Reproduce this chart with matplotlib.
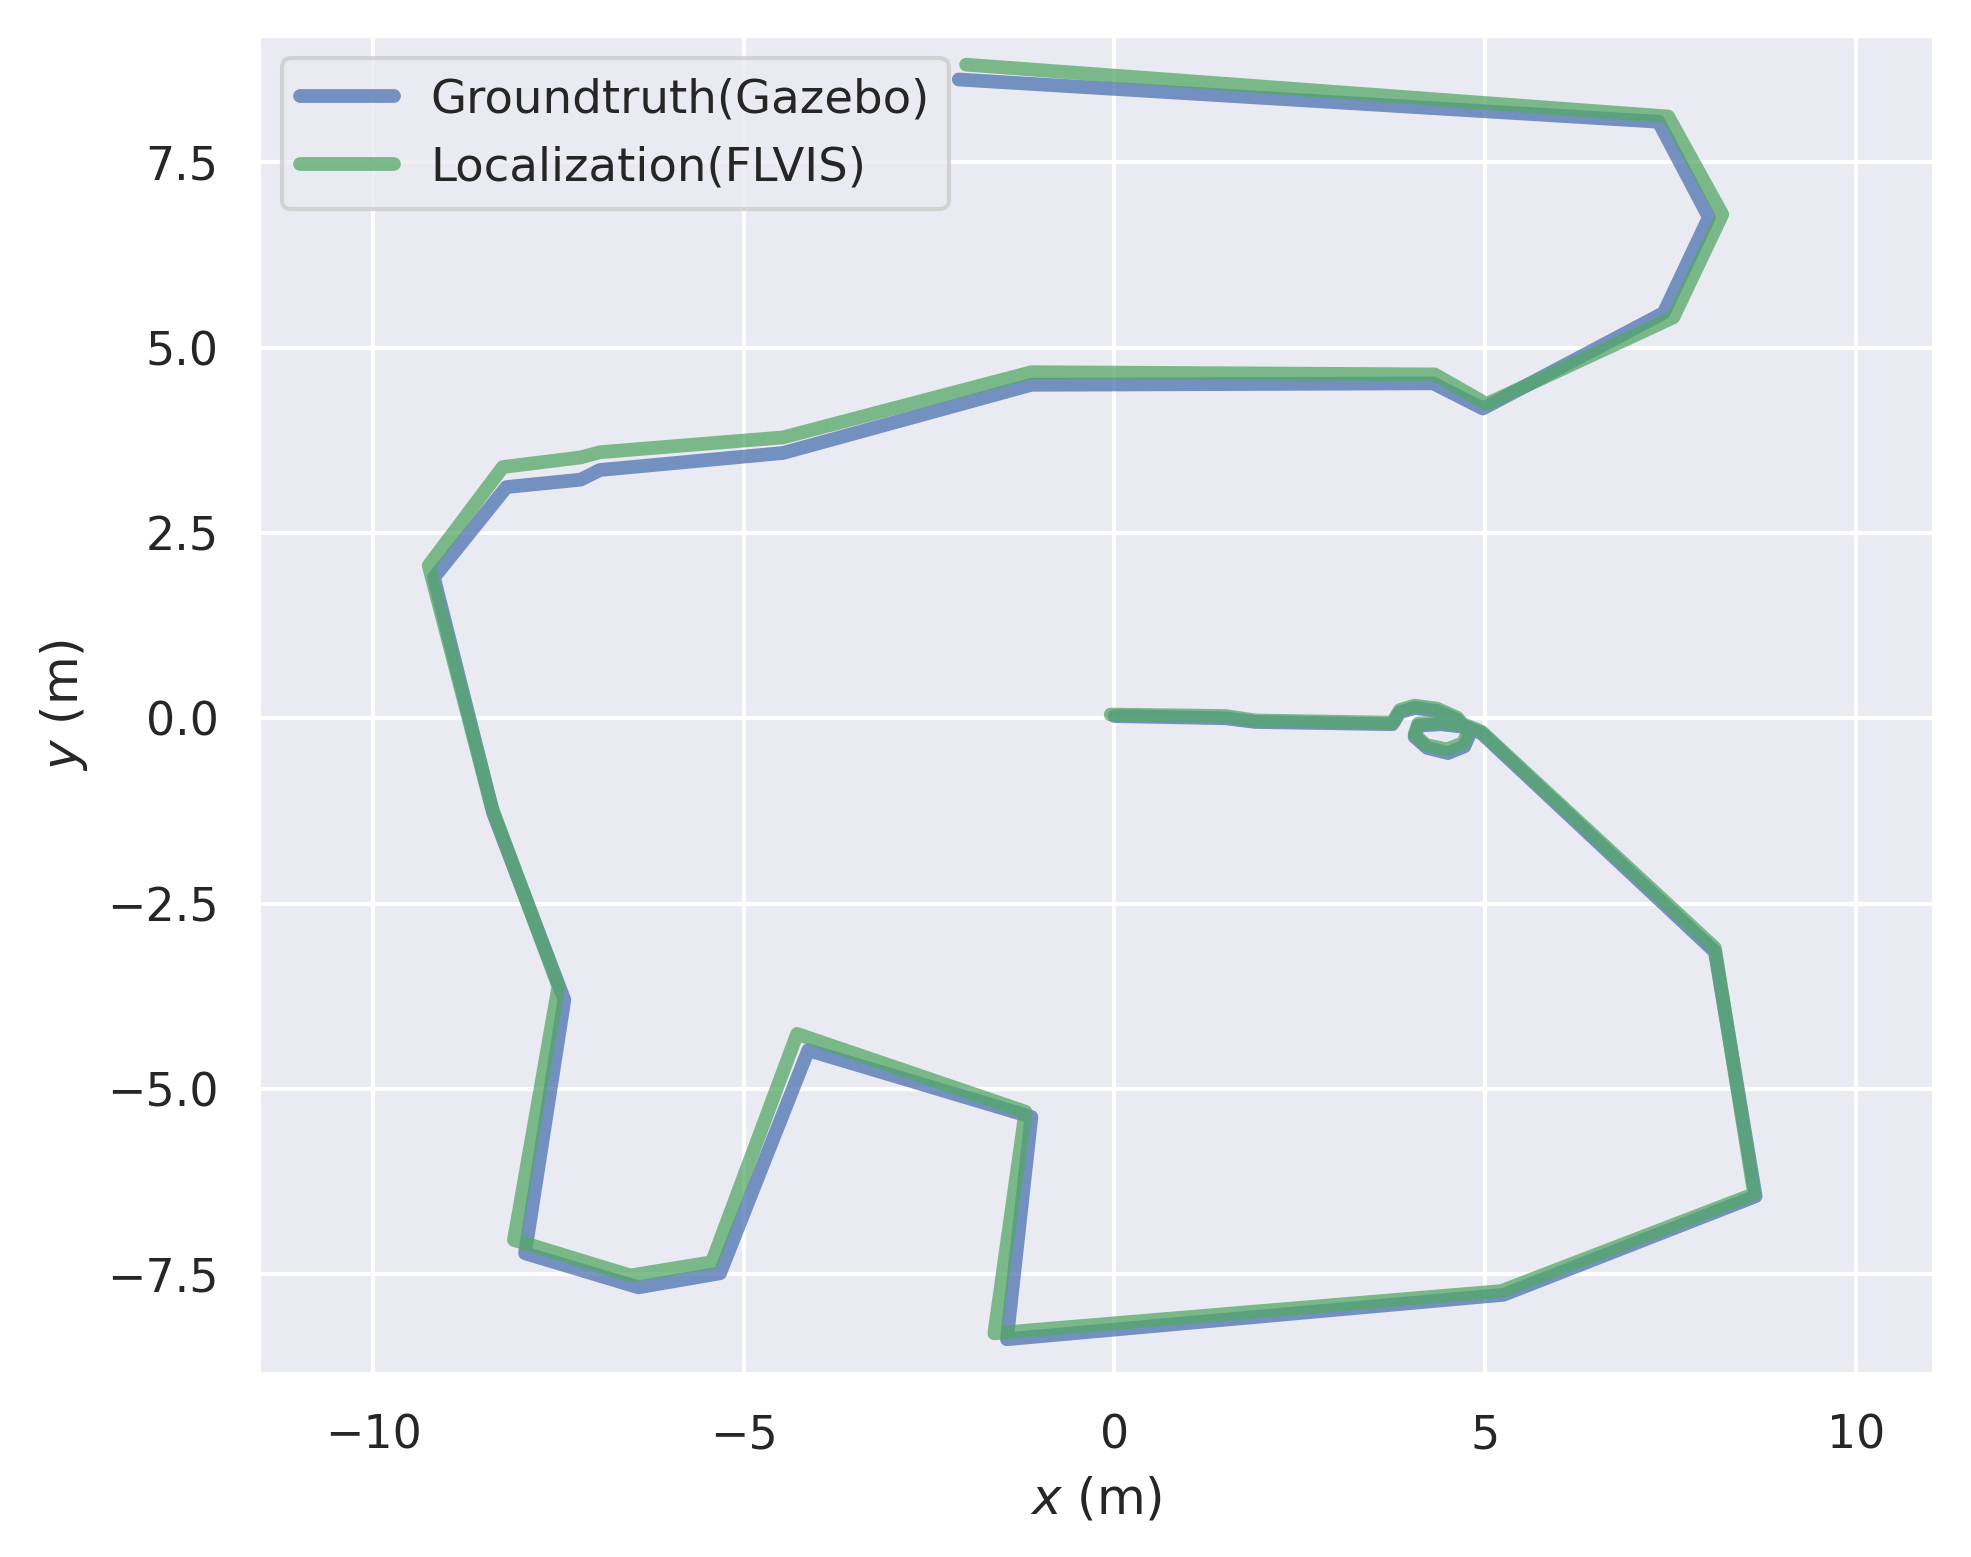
import matplotlib
matplotlib.use("Agg")
import matplotlib.pyplot as plt
import seaborn as sns

# Groundtruth (Gazebo) trajectory vertices
gt_x = [0.0, 1.5, 1.9, 3.75, 3.85, 4.05, 4.35, 4.62, 4.8, 4.72, 4.5, 4.22, 4.05, 4.1, 4.4, 4.75, 4.95,
        8.1, 8.65, 5.25, -1.45, -1.12, -4.13, -5.32, -6.42, -7.95, -7.42,
        -8.38, -9.18, -8.2, -7.2, -6.94, -4.47, -1.12, 4.3, 4.97, 7.41,
        8.02, 7.34, -2.1]
gt_y = [0.03, 0.0, -0.05, -0.08, 0.08, 0.14, 0.1, -0.02, -0.2, -0.38, -0.47, -0.4, -0.25, -0.1, -0.08, -0.12, -0.2,
        -3.15, -6.45, -7.78, -8.38, -5.38, -4.48, -7.49, -7.68, -7.22, -3.8,
        -1.28, 1.9, 3.12, 3.22, 3.35, 3.58, 4.5, 4.52, 4.18, 5.47,
        6.76, 8.05, 8.62]

# Localization (FLVIS) trajectory vertices
lo_x = [-0.05, 1.5, 1.9, 3.75, 3.85, 4.05, 4.35, 4.62, 4.78, 4.7, 4.48, 4.2, 4.05, 4.1, 4.4, 4.75, 4.95,
        8.1, 8.63, 5.22, -1.62, -1.2, -4.28, -5.43, -6.53, -8.1, -7.5,
        -8.4, -9.25, -8.25, -7.2, -6.94, -4.47, -1.12, 4.32, 5.02, 7.54,
        8.2, 7.47, -2.0]
lo_y = [0.05, 0.03, -0.03, -0.06, 0.11, 0.17, 0.13, 0.01, -0.17, -0.34, -0.42, -0.36, -0.22, -0.07, -0.06, -0.1, -0.18,
        -3.1, -6.42, -7.73, -8.3, -5.31, -4.26, -7.34, -7.52, -7.04, -3.62,
        -1.2, 2.06, 3.39, 3.52, 3.59, 3.79, 4.67, 4.64, 4.24, 5.41,
        6.8, 8.12, 8.82]

labels = ["Groundtruth(Gazebo)", "Localization(FLVIS)"]

sns.set_theme(style="darkgrid", context="notebook")
plt.rcParams['font.family'] = ['DejaVu Sans']

fig = plt.figure(figsize=(6.57, 5.19), dpi=300)
ax = fig.add_axes([0.131, 0.1175, 0.85, 0.86])

pal = sns.color_palette("deep")
ax.plot(gt_x, gt_y, color=pal[0], lw=3.3, alpha=0.75, label=labels[0],
        solid_joinstyle='round', solid_capstyle='round')
ax.plot(lo_x, lo_y, color=pal[2], lw=3.3, alpha=0.75, label=labels[1],
        solid_joinstyle='round', solid_capstyle='round')

ax.set_xlim(-11.55, 11.05)
ax.set_ylim(-8.85, 9.22)
ax.set_xticks([-10, -5, 0, 5, 10])
ax.set_yticks([-7.5, -5.0, -2.5, 0.0, 2.5, 5.0, 7.5])
ax.set_xlabel("$x$ (m)")
ax.set_ylabel("$y$ (m)")
ax.legend(loc="upper left", fontsize=11.2)

fig.savefig("out.png", dpi=300)
